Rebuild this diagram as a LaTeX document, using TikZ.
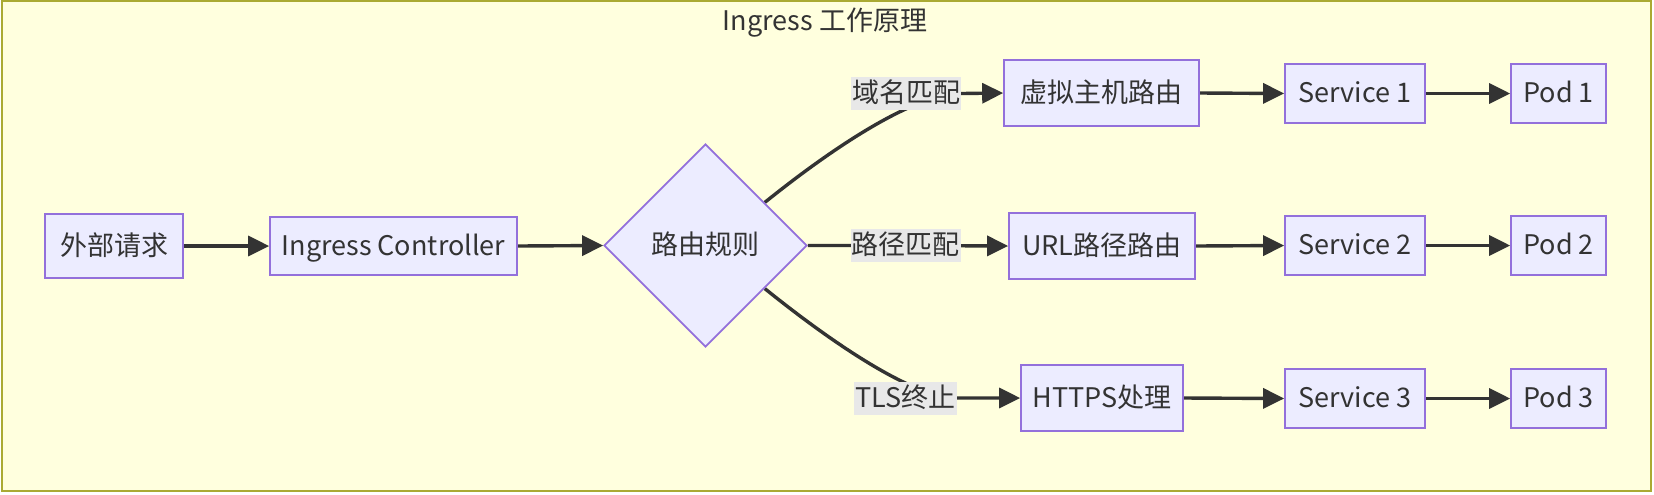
\documentclass[tikz,border=0pt]{standalone}
\usepackage{fontspec}
\setmainfont{Noto Sans CJK SC}
\usetikzlibrary{shapes.geometric,arrows.meta}
\definecolor{nodefill}{HTML}{ECECFF}
\definecolor{nodeline}{HTML}{9370DB}
\definecolor{clusterfill}{HTML}{FFFFDE}
\definecolor{clusterline}{HTML}{AAAA33}
\definecolor{ink}{HTML}{333333}
\definecolor{lblfill}{HTML}{E8E8E8}
\pgfdeclarelayer{back}
\pgfdeclarelayer{edges}
\pgfsetlayers{back,edges,main}
\begin{document}
\begin{tikzpicture}[x=0.5pt,y=-0.5pt,
  every node/.style={font=\fontsize{13.5}{16}\selectfont, text=ink, text height=11.5pt, text depth=2.5pt},
  box/.style={rectangle, draw=nodeline, fill=nodefill, line width=0.85pt, inner sep=0pt},
  rowbox/.style={box, minimum height=33pt},
  svcbox/.style={box, minimum width=70pt, minimum height=29.5pt},
  podbox/.style={box, minimum width=47.5pt, minimum height=29.5pt},
  rule/.style={diamond, aspect=1, draw=nodeline, fill=nodefill, line width=0.85pt, inner sep=0pt, minimum width=101.5pt, minimum height=101.5pt},
  lbl/.style={fill=lblfill, inner xsep=0.5pt, inner ysep=0pt, minimum height=16.5pt},
  edge/.style={draw=ink, line width=1.7pt, -{Triangle[length=10.5pt,width=10pt]}}
]
\useasboundingbox (0,0) rectangle (1654,494);
\begin{pgfonlayer}{back}
  \draw[draw=clusterline, fill=clusterfill, line width=1pt] (1.5,1) rectangle (1650.5,491);
\end{pgfonlayer}
\node (title) at (825,21) {Ingress 工作原理};

\node[box, minimum width=69pt, minimum height=32pt] (ext) at (114,246) {外部请求};
\node[box, minimum width=123.5pt, minimum height=29pt] (ic) at (393.5,246) {Ingress Controller};
\node[rule] (d) at (705.5,245.5) {路由规则};

\node[rowbox, minimum width=97.5pt] (vhost) at (1101.5,93) {虚拟主机路由};
\node[rowbox, minimum width=93pt] (url) at (1102,246) {URL路径路由};
\node[rowbox, minimum width=81pt] (https) at (1102,398) {HTTPS处理};

\node[svcbox] (svc1) at (1355,93.5) {Service 1};
\node[svcbox] (svc2) at (1355,245.5) {Service 2};
\node[svcbox] (svc3) at (1355,398.5) {Service 3};

\node[podbox] (pod1) at (1558.5,93.5) {Pod 1};
\node[podbox] (pod2) at (1558.5,245.5) {Pod 2};
\node[podbox] (pod3) at (1558.5,398.5) {Pod 3};

\node[lbl] (lab1) at (906,93.5) {域名匹配};
\node[lbl] (lab2) at (905.5,245.5) {路径匹配};
\node[lbl] (lab3) at (905.5,398) {TLS终止};

\begin{pgfonlayer}{edges}
  \draw[edge] (ext.east) -- (ic.west);
  \draw[edge] (ic.east) -- (d.west);
  \draw[edge] (d.36) .. controls (805,170) and (905,93.5) .. (lab1.east) -- (vhost.west);
  \draw[edge] (d.east) -- (lab2.center) -- (url.west);
  \draw[edge] (d.-36) .. controls (805,321) and (905,398) .. (lab3.east) -- (https.west);
  \draw[edge] (vhost.east) -- (svc1.west);
  \draw[edge] (url.east) -- (svc2.west);
  \draw[edge] (https.east) -- (svc3.west);
  \draw[edge] (svc1.east) -- (pod1.west);
  \draw[edge] (svc2.east) -- (pod2.west);
  \draw[edge] (svc3.east) -- (pod3.west);
\end{pgfonlayer}
\end{tikzpicture}
\end{document}
